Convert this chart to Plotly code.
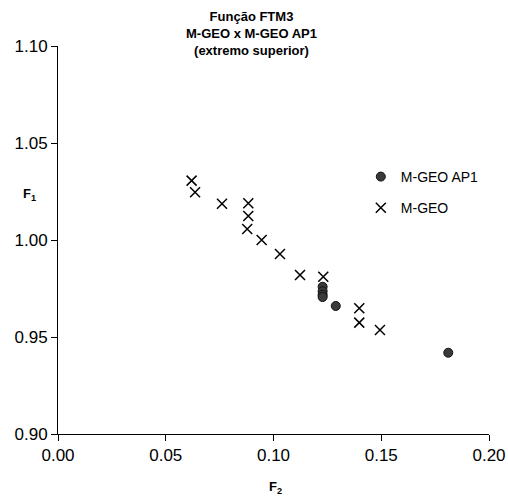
import plotly.graph_objects as go

# M-GEO AP1 (circles)
ap1_f2 = [0.1228, 0.1228, 0.1228, 0.1228, 0.1289, 0.1811]
ap1_f1 = [0.9759, 0.9736, 0.9718, 0.9706, 0.9660, 0.9419]

# M-GEO (x markers)
mgeo_f2 = [0.0620, 0.0636, 0.0761, 0.0883, 0.0883, 0.0878, 0.0945, 0.1030,
           0.1123, 0.1231, 0.1398, 0.1398, 0.1494]
mgeo_f1 = [1.0306, 1.0246, 1.0187, 1.0189, 1.0124, 1.0057, 1.0000, 0.9928,
           0.9820, 0.9811, 0.9648, 0.9574, 0.9536]

x_ticks = [0.00, 0.05, 0.10, 0.15, 0.20]
y_ticks = [0.90, 0.95, 1.00, 1.05, 1.10]

font = 'Liberation Sans, Arial, sans-serif'

fig = go.Figure()
fig.add_trace(go.Scatter(x=ap1_f2, y=ap1_f1, name='M-GEO AP1', mode='markers',
                         legendgroup='a',
                         marker=dict(symbol='circle', size=9, color='#3a3a3a',
                                     line=dict(color='#111111', width=1))))
fig.add_trace(go.Scatter(x=mgeo_f2, y=mgeo_f1, name='M-GEO', mode='markers',
                         legendgroup='b',
                         marker=dict(symbol='x-thin', size=10, color='black',
                                     line=dict(color='black', width=1.5))))

fig.update_layout(
    width=508, height=504,
    margin=dict(l=58, r=19, t=46, b=70),
    paper_bgcolor='white', plot_bgcolor='white',
    font=dict(family=font, color='black'),
    showlegend=True,
    legend=dict(x=0.7026, y=0.7036, xanchor='left', yanchor='top',
                bgcolor='rgba(0,0,0,0)', font=dict(size=14, family=font),
                traceorder='grouped', tracegroupgap=10, itemwidth=30),
    xaxis=dict(range=[0, 0.20], tickvals=x_ticks, tickformat='.2f',
               showgrid=False, zeroline=False, showline=True, linecolor='black',
               linewidth=1, ticks='outside', ticklen=6, tickcolor='black',
               tickfont=dict(size=17), fixedrange=True, automargin=False,
               ticklabeloverflow='allow'),
    yaxis=dict(range=[0.90, 1.10], tickvals=y_ticks, tickformat='.2f',
               showgrid=False, zeroline=False, showline=True, linecolor='black',
               linewidth=1, ticks='outside', ticklen=6, tickcolor='black',
               tickfont=dict(size=17), fixedrange=True, automargin=False),
    annotations=[
        dict(text='<b>Função FTM3<br>M-GEO x M-GEO AP1<br>(extremo superior)</b>',
             xref='paper', yref='paper', x=0.448, y=1.031,
             xanchor='center', yanchor='middle', showarrow=False,
             font=dict(size=13, family=font)),
        dict(text='<b>F<sub>1</sub></b>', xref='paper', yref='paper',
             x=-0.065, y=0.616, xanchor='center', yanchor='middle',
             showarrow=False, font=dict(size=13, family=font)),
        dict(text='<b>F<sub>2</sub></b>', xref='paper', yref='paper',
             x=0.5035, y=-0.139, xanchor='center', yanchor='middle',
             showarrow=False, font=dict(size=13, family=font)),
    ],
)

# drop the default 8px page margin so the figure fills the window
fig.write_html("out.html", config={'displayModeBar': False},
               post_script="document.body.style.margin = '0';")
